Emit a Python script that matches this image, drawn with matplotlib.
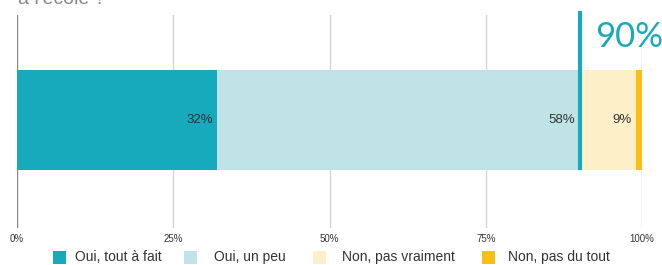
import matplotlib
matplotlib.use("Agg")
import matplotlib.pyplot as plt
from matplotlib.patches import Rectangle

categories = ["Oui, tout à fait", "Oui, un peu", "Non, pas vraiment", "Non, pas du tout"]
values = [32, 58, 9, 1]
value_labels = ["32%", "58%", "9%", ""]
colors = ["#17A9BC", "#BFE3E6", "#FDF0C9", "#FBBE14"]
ticks = [0, 25, 50, 75, 100]
tick_labels = ["0%", "25%", "50%", "75%", "100%"]
highlight = 90
highlight_label = "90%"
title = "à l'école ?"

W, H = 662, 265
fig = plt.figure(figsize=(W / 100, H / 100), dpi=100)
ax = fig.add_axes([17 / W, 1 - 228 / H, 625 / W, 213 / H])
ax.set_xlim(0, 100)
ax.set_ylim(0, 1)

for t in ticks:
    ax.axvline(t, color="#888888" if t == 0 else "#D4D4D4", lw=1.0, zorder=0)

left = 0
for v, c, lab in zip(values, colors, value_labels):
    ax.barh(0.507, v, left=left, height=0.47, color=c, zorder=2)
    if lab:
        ax.annotate(lab, xy=(left + v, 0.507), xytext=(-3, 0), textcoords="offset points",
                    ha="right", va="center", fontsize=9.5, color="#333333",
                    family="Liberation Sans", zorder=3)
    left += v

ax.plot([highlight, highlight], [0.28, 1.01], color="#17A9BC", lw=3, clip_on=False, zorder=4)
fig.text(595 / W, 1 - 37 / H, highlight_label, color="#17A9BC", fontsize=25,
         family="Lato", ha="left", va="center")

for s in ax.spines.values():
    s.set_visible(False)
ax.set_yticks([])
ax.set_xticks(ticks)
ax.set_xticklabels(tick_labels, fontsize=7, color="#333333", family="Liberation Sans")
ax.tick_params(axis="x", length=0, pad=4)

fig.text(18 / W, 1.0, title, fontsize=14, color="#888888", family="Liberation Sans",
         ha="left", va="center")

# legend, laid out manually
sq_x = [53, 184, 313, 482]
lab_x = [75, 214, 342, 508]
leg_y = 257
sq = 13
for c, name, sx, lx in zip(colors, categories, sq_x, lab_x):
    fig.patches.append(Rectangle((sx / W, 1 - (leg_y + sq / 2) / H), sq / W, sq / H,
                                 transform=fig.transFigure, facecolor=c, edgecolor="none"))
    fig.text(lx / W, 1 - leg_y / H, name, fontsize=10, color="#333333",
             family="Liberation Sans", ha="left", va="center")

fig.savefig("out.png", dpi=100)
